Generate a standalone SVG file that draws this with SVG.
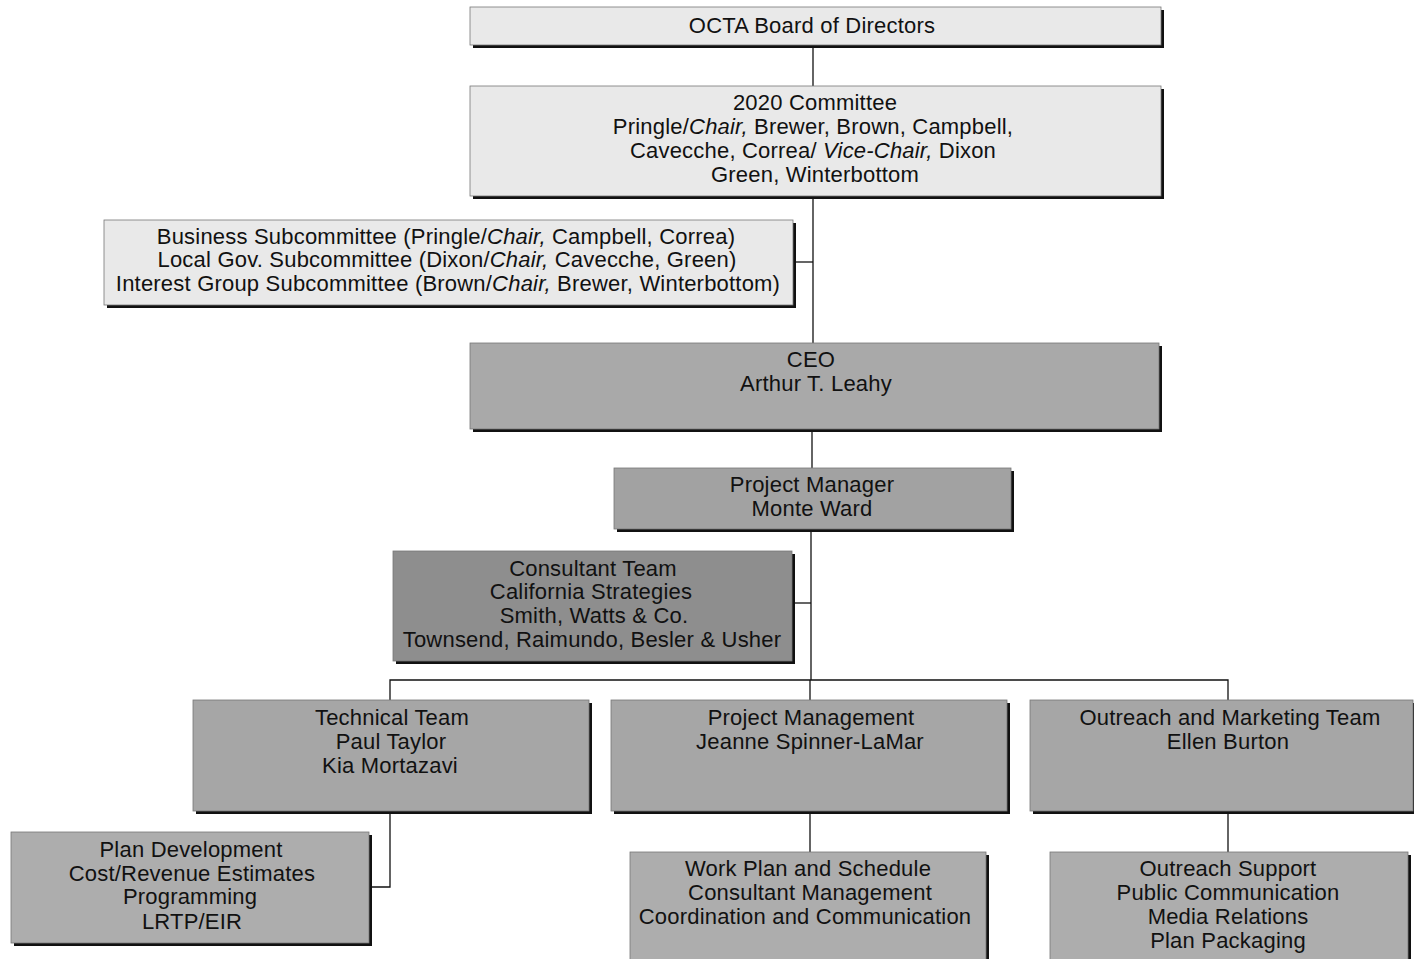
<svg xmlns="http://www.w3.org/2000/svg" width="1414" height="959" viewBox="0 0 1414 959">
<style>
.sh{fill:#111}
.b{stroke:#777;stroke-width:0.8}
.l1{fill:#e9e9e9}
.g1{fill:#a9a9a9}
.g2{fill:#a2a2a2}
.g3{fill:#8e8e8e}
.g4{fill:#a6a6a6}
.g5{fill:#adadad}
text{font-family:"Liberation Sans",Arial,Helvetica,sans-serif;font-size:22px;letter-spacing:0.2px;fill:#111;text-anchor:middle}
.i{font-style:italic}
.c{stroke:#111;stroke-width:1.3;fill:none}
</style>
<rect width="1414" height="959" fill="#fff"/>
<g id="connectors">
<line class="c" x1="813" y1="46" x2="813" y2="86"/>
<line class="c" x1="813" y1="197" x2="813" y2="343"/>
<line class="c" x1="795" y1="262" x2="813" y2="262"/>
<line class="c" x1="812" y1="430" x2="812" y2="468"/>
<line class="c" x1="811" y1="530" x2="811" y2="680"/>
<line class="c" x1="793" y1="603" x2="811" y2="603"/>
<polyline class="c" points="390,700 390,680 1228,680 1228,700"/>
<line class="c" x1="810" y1="680" x2="810" y2="700"/>
<polyline class="c" points="390,812 390,887 371,887"/>
<line class="c" x1="810" y1="812" x2="810" y2="852"/>
<line class="c" x1="1228" y1="812" x2="1228" y2="852"/>
</g>
<g id="board">
<rect class="sh" x="473" y="10" width="691" height="38"/>
<rect class="l1 b" x="470" y="7" width="691" height="38"/>
<text x="812" y="33">OCTA Board of Directors</text>
</g>
<g id="committee">
<rect class="sh" x="473" y="89" width="691" height="110"/>
<rect class="l1 b" x="470" y="86" width="691" height="110"/>
<text x="815" y="110">2020 Committee</text>
<text x="813" y="134">Pringle/<tspan class="i">Chair,</tspan> Brewer, Brown, Campbell,</text>
<text x="813" y="158">Cavecche, Correa/ <tspan class="i">Vice-Chair,</tspan> Dixon</text>
<text x="815" y="182">Green, Winterbottom</text>
</g>
<g id="subcommittees">
<rect class="sh" x="107" y="223" width="689" height="85"/>
<rect class="l1 b" x="104" y="220" width="689" height="85"/>
<text x="446" y="244">Business Subcommittee (Pringle/<tspan class="i">Chair,</tspan> Campbell, Correa)</text>
<text x="447" y="267">Local Gov. Subcommittee (Dixon/<tspan class="i">Chair,</tspan> Cavecche, Green)</text>
<text x="448" y="291">Interest Group Subcommittee (Brown/<tspan class="i">Chair,</tspan> Brewer, Winterbottom)</text>
</g>
<g id="ceo">
<rect class="sh" x="473" y="346" width="689" height="86"/>
<rect class="g1 b" x="470" y="343" width="689" height="86"/>
<text x="811" y="367">CEO</text>
<text x="816" y="391">Arthur T. Leahy</text>
</g>
<g id="pm">
<rect class="sh" x="617" y="471" width="397" height="61"/>
<rect class="g2 b" x="614" y="468" width="397" height="61"/>
<text x="812" y="492">Project Manager</text>
<text x="812" y="516">Monte Ward</text>
</g>
<g id="consultant">
<rect class="sh" x="396" y="554" width="399" height="110"/>
<rect class="g3 b" x="393" y="551" width="399" height="110"/>
<text x="593" y="576">Consultant Team</text>
<text x="591" y="599">California Strategies</text>
<text x="594" y="623">Smith, Watts &amp; Co.</text>
<text x="592" y="647">Townsend, Raimundo, Besler &amp; Usher</text>
</g>
<g id="technical">
<rect class="sh" x="196" y="703" width="396" height="111"/>
<rect class="g4 b" x="193" y="700" width="396" height="111"/>
<text x="392" y="725">Technical Team</text>
<text x="391" y="749">Paul Taylor</text>
<text x="390" y="773">Kia Mortazavi</text>
</g>
<g id="projmgmt">
<rect class="sh" x="614" y="703" width="396" height="111"/>
<rect class="g4 b" x="611" y="700" width="396" height="111"/>
<text x="811" y="725">Project Management</text>
<text x="810" y="749">Jeanne Spinner-LaMar</text>
</g>
<g id="outreach">
<rect class="sh" x="1033" y="703" width="384" height="111"/>
<rect class="g4 b" x="1030" y="700" width="383" height="111"/>
<text x="1230" y="725">Outreach and Marketing Team</text>
<text x="1228" y="749">Ellen Burton</text>
</g>
<g id="plandev">
<rect class="sh" x="14" y="835" width="358" height="111"/>
<rect class="g5 b" x="11" y="832" width="358" height="111"/>
<text x="191" y="857">Plan Development</text>
<text x="192" y="881">Cost/Revenue Estimates</text>
<text x="190" y="904">Programming</text>
<text x="192" y="929">LRTP/EIR</text>
</g>
<g id="workplan">
<rect class="sh" x="633" y="855" width="356" height="110"/>
<rect class="g5 b" x="630" y="852" width="356" height="110"/>
<text x="808" y="876">Work Plan and Schedule</text>
<text x="810" y="900">Consultant Management</text>
<text x="805" y="924">Coordination and Communication</text>
</g>
<g id="outreachsupport">
<rect class="sh" x="1053" y="855" width="358" height="110"/>
<rect class="g5 b" x="1050" y="852" width="358" height="110"/>
<text x="1228" y="876">Outreach Support</text>
<text x="1228" y="900">Public Communication</text>
<text x="1228" y="924">Media Relations</text>
<text x="1228" y="948">Plan Packaging</text>
</g>
</svg>
